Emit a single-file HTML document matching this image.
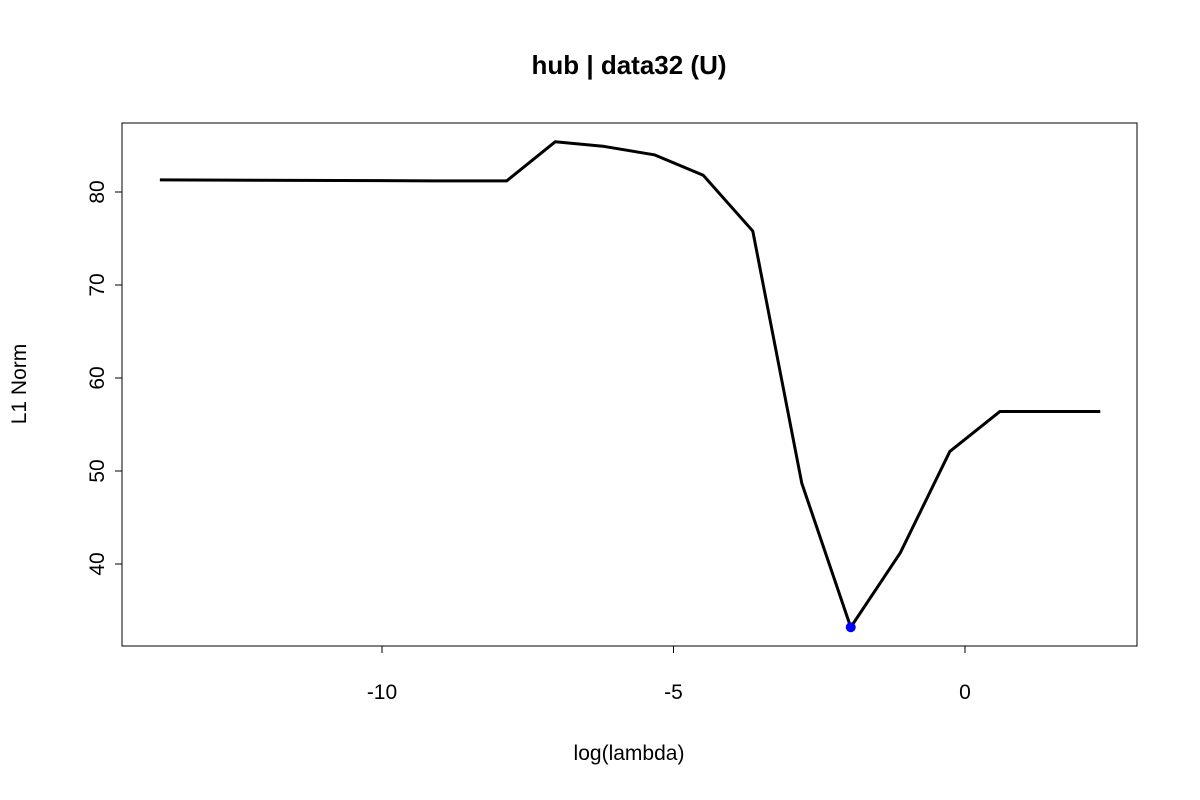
<!DOCTYPE html>
<html><head><meta charset="utf-8"><style>
body{margin:0;background:#fff;}
svg{display:block;font-family:"Liberation Sans",Arial,sans-serif;}
</style></head><body>
<svg id="chart" width="1200" height="800">
<text x="629" y="74" text-anchor="middle" font-size="26" font-weight="bold">hub | data32 (U)</text>
<rect x="122" y="123" width="1015" height="523" fill="none" stroke="#000" stroke-width="1"/>
<text x="629" y="760" text-anchor="middle" font-size="21">log(lambda)</text>
<text transform="translate(26,384) rotate(-90)" text-anchor="middle" font-size="21">L1 Norm</text>
<g id="xaxis"></g>
<g id="yaxis"></g>
<g id="series"></g>
</svg>
<script>
const xVals=[-13.81,-9.14,-7.86,-7.03,-6.19,-5.33,-4.49,-3.64,-2.80,-1.96,-1.11,-0.26,0.60,2.32];
const yVals=[81.3,81.2,81.2,85.4,84.9,84.0,81.8,75.8,48.7,33.2,41.2,52.1,56.4,56.4];
const xTicks=[-10,-5,0];
const yTicks=[40,50,60,70,80];
const minIndex=9;
const NS="http://www.w3.org/2000/svg";
function sx(v){return 965+v*58.3;}
function sy(v){return 192+(80-v)*9.3;}
function mk(t,a,p){const e=document.createElementNS(NS,t);for(const k in a)e.setAttribute(k,a[k]);p.appendChild(e);return e;}
const xa=document.getElementById('xaxis'),ya=document.getElementById('yaxis'),se=document.getElementById('series');
mk('line',{x1:sx(xTicks[0]),x2:sx(xTicks[xTicks.length-1]),y1:646,y2:646,stroke:'#000'},xa);
xTicks.forEach(t=>{
  const l=mk('line',{x1:sx(t),x2:sx(t),y1:646,y2:653,stroke:'#000'},xa);
  
  
  const tx=mk('text',{x:sx(t),y:699,'text-anchor':'middle','font-size':21},xa);
  tx.textContent=t;
  
  
});
mk('line',{x1:122,x2:122,y1:sy(yTicks[0]),y2:sy(yTicks[yTicks.length-1]),stroke:'#000'},ya);
yTicks.forEach(t=>{
  const l=mk('line',{x1:115,x2:122,y1:sy(t),y2:sy(t),stroke:'#000'},ya);
  
  
  const tx=mk('text',{x:0,y:0,'text-anchor':'middle','font-size':21,transform:`translate(104,${sy(t)}) rotate(-90)`},ya);
  tx.textContent=t;
  
  
});
const pl=mk('polyline',{points:xVals.map((x,i)=>sx(x)+','+sy(yVals[i])).join(' '),fill:'none',stroke:'#000','stroke-width':3,'stroke-linejoin':'round'},se);


const c=mk('circle',{cx:sx(xVals[minIndex]),cy:sy(yVals[minIndex]),r:5,fill:'#0000ff'},se);


</script>
</body></html>
